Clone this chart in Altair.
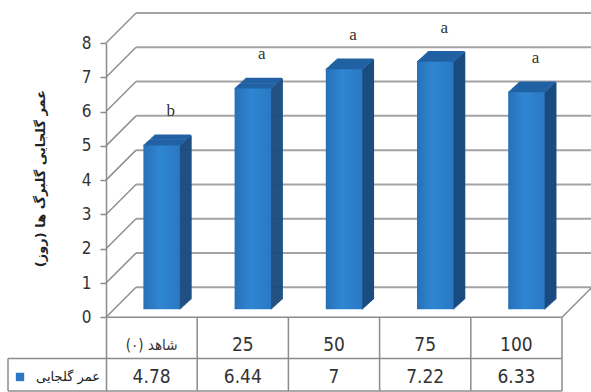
import altair as alt
import pandas as pd

# ---------------- data ----------------
categories = ["شاهد (۰)", "25", "50", "75", "100"]
values = [4.78, 6.44, 7, 7.22, 6.33]
value_labels = ["4.78", "6.44", "7", "7.22", "6.33"]
letters = ["b", "a", "a", "a", "a"]
y_ticks = [0, 1, 2, 3, 4, 5, 6, 7, 8]
series_name = "عمر گلجایی"
y_title = "عمر گلجایی گلبرگ ها (روز)"

# ---------------- layout / style constants ----------------
PLOT_W = 456
PLOT_H = 348
Y_MIN = -2.15
Y_MAX = 8
HEADER_Y = -0.8
VALUE_Y = -1.74
ROW_SPLIT = -1.2
BAR_L = 0.41
BAR_R = 0.81
DEPTH_X = 11
DEPTH_Y = 10
BAR_LIFT = 8
WALL = 30
LEG_W = 98

FRONT = alt.Gradient(
    gradient="linear",
    stops=[alt.GradientStop(color="#2870B8", offset=0),
           alt.GradientStop(color="#2F86D3", offset=0.45),
           alt.GradientStop(color="#2A78C3", offset=1)],
    x1=0, x2=1, y1=0, y2=0,
)
TOP = "#2162A3"
SIDE = "#1B4C80"
GRID = "#A3A3A3"
LINE = "#8C8C8C"
DIGIT_FONT = "Liberation Sans Narrow, Arial Narrow, DejaVu Sans Condensed, Liberation Sans"
FA_FONT = "DejaVu Sans"

n = len(categories)
df = pd.DataFrame({
    "i": list(range(n)),
    "cat": categories,
    "value": values,
    "vlabel": value_labels,
    "letter": letters,
})
df["xl"] = df["i"] + BAR_L
df["xr"] = df["i"] + BAR_R
df["xm"] = (df["xl"] + df["xr"]) / 2
df["xc"] = df["i"] + 0.5
df["base"] = 0.0
df["hy"] = HEADER_Y
df["vy"] = VALUE_Y

ticks = pd.DataFrame({"t": y_ticks})
ticks["x0"] = 0
ticks["x1"] = n

cols = pd.DataFrame({"c": list(range(1, n + 1))})
cols["top"] = 0.0
cols["bot"] = Y_MIN

frame = pd.DataFrame({"x0": [0], "x1": [n], "zero": [0.0], "split": [ROW_SPLIT],
                      "bot": [Y_MIN], "vy": [VALUE_Y], "label": [series_name]})

xs = alt.Scale(domain=[0, n], nice=False, zero=False)
ys = alt.Scale(domain=[Y_MIN, Y_MAX], nice=False, zero=False)
yax = alt.Axis(
    values=y_ticks, title=y_title, grid=False,
    labelFont=DIGIT_FONT, labelFontSize=17, labelColor="#333333", labelPadding=9,
    tickSize=6, tickColor=LINE, tickWidth=1.5,
    domainColor=LINE, domainWidth=1.5,
    titleFont=FA_FONT, titleFontSize=13, titleFontWeight="bold", titleColor="#222222",
    titleX=-66, titleY=135, titleAngle=270, titleAlign="center", titleBaseline="middle",
)


def X(f):
    return alt.X(f, type="quantitative", scale=xs, axis=None)


def Y(f):
    return alt.Y(f, type="quantitative", scale=ys, axis=yax)


layers = []

# back wall gridlines
layers.append(alt.Chart(ticks).mark_rule(
    color=GRID, strokeWidth=2, xOffset=WALL, x2Offset=WALL, yOffset=-WALL
).encode(x=X("x0"), x2="x1", y=Y("t")))

# side wall diagonals
layers.append(alt.Chart(ticks).mark_rule(
    color=LINE, strokeWidth=1.5, x2Offset=WALL, y2Offset=-WALL
).encode(x=X("x0"), x2="x0", y=Y("t"), y2="t"))

# floor: front edge and right diagonal
layers.append(alt.Chart(frame).mark_rule(color=LINE, strokeWidth=1.5).encode(
    x=X("x0"), x2="x1", y=Y("zero")))
layers.append(alt.Chart(frame).mark_rule(
    color=LINE, strokeWidth=1.5, x2Offset=WALL, y2Offset=-WALL
).encode(x=X("x1"), x2="x1", y=Y("zero"), y2="zero"))

# bars: side faces
dy = DEPTH_Y / DEPTH_X
for k in range(0, DEPTH_X + 1):
    off = -BAR_LIFT - k * dy
    layers.append(alt.Chart(df).mark_rule(
        color=SIDE, strokeWidth=1.6, xOffset=k, yOffset=off, y2Offset=off
    ).encode(x=X("xr"), y=Y("base"), y2="value"))
# bars: top faces
for k in range(0, DEPTH_X + 1):
    off = -BAR_LIFT - k * dy
    layers.append(alt.Chart(df).mark_rule(
        color=TOP, strokeWidth=1.6, xOffset=k, x2Offset=k, yOffset=off
    ).encode(x=X("xl"), x2="xr", y=Y("value")))
# bars: front faces
layers.append(alt.Chart(df).mark_rect(
    color=FRONT, yOffset=-BAR_LIFT, y2Offset=-BAR_LIFT
).encode(x=X("xl"), x2="xr", y=Y("base"), y2="value"))

# significance letters
layers.append(alt.Chart(df).mark_text(
    font="Liberation Serif", fontSize=17, color="#333333", xOffset=9, yOffset=-42,
    baseline="middle"
).encode(x=X("xm"), y=Y("value"), text="letter"))

# table lines
layers.append(alt.Chart(cols).mark_rule(color=LINE, strokeWidth=1.5).encode(
    x=X("c"), y=Y("top"), y2="bot"))
layers.append(alt.Chart(frame).mark_rule(color=LINE, strokeWidth=1.5, xOffset=-LEG_W).encode(
    x=X("x0"), x2="x1", y=Y("split")))
layers.append(alt.Chart(frame).mark_rule(color=LINE, strokeWidth=1.5, xOffset=-LEG_W).encode(
    x=X("x0"), x2="x1", y=Y("bot")))
layers.append(alt.Chart(frame).mark_rule(color=LINE, strokeWidth=1.5, xOffset=-LEG_W).encode(
    x=X("x0"), y=Y("split"), y2="bot"))

# table text: header (categories) and values
layers.append(alt.Chart(df).mark_text(
    font=DIGIT_FONT, color="#333333", baseline="middle"
).encode(x=X("xc"), y=Y("hy"), text="cat",
         size=alt.condition("datum.i == 0", alt.value(15), alt.value(19))))
layers.append(alt.Chart(df).mark_text(
    font=DIGIT_FONT, fontSize=19, color="#333333", baseline="middle"
).encode(x=X("xc"), y=Y("vy"), text="vlabel"))

# legend key in table
layers.append(alt.Chart(frame).mark_square(
    color="#2A78C3", size=70, opacity=1, xOffset=-86
).encode(x=X("x0"), y=Y("vy")))
layers.append(alt.Chart(frame).mark_text(
    font=FA_FONT, fontSize=13, color="#222222", align="right", baseline="middle", xOffset=-6
).encode(x=X("x0"), y=Y("vy"), text="label"))

chart = alt.layer(*layers).properties(
    width=PLOT_W, height=PLOT_H,
    autosize=alt.AutoSizeParams(type="none"),
    padding={"left": 106, "top": 43, "right": 29, "bottom": 1},
    background="white",
).configure_view(stroke=None)

chart.save("out.html", embed_options={"renderer": "svg", "actions": False})
